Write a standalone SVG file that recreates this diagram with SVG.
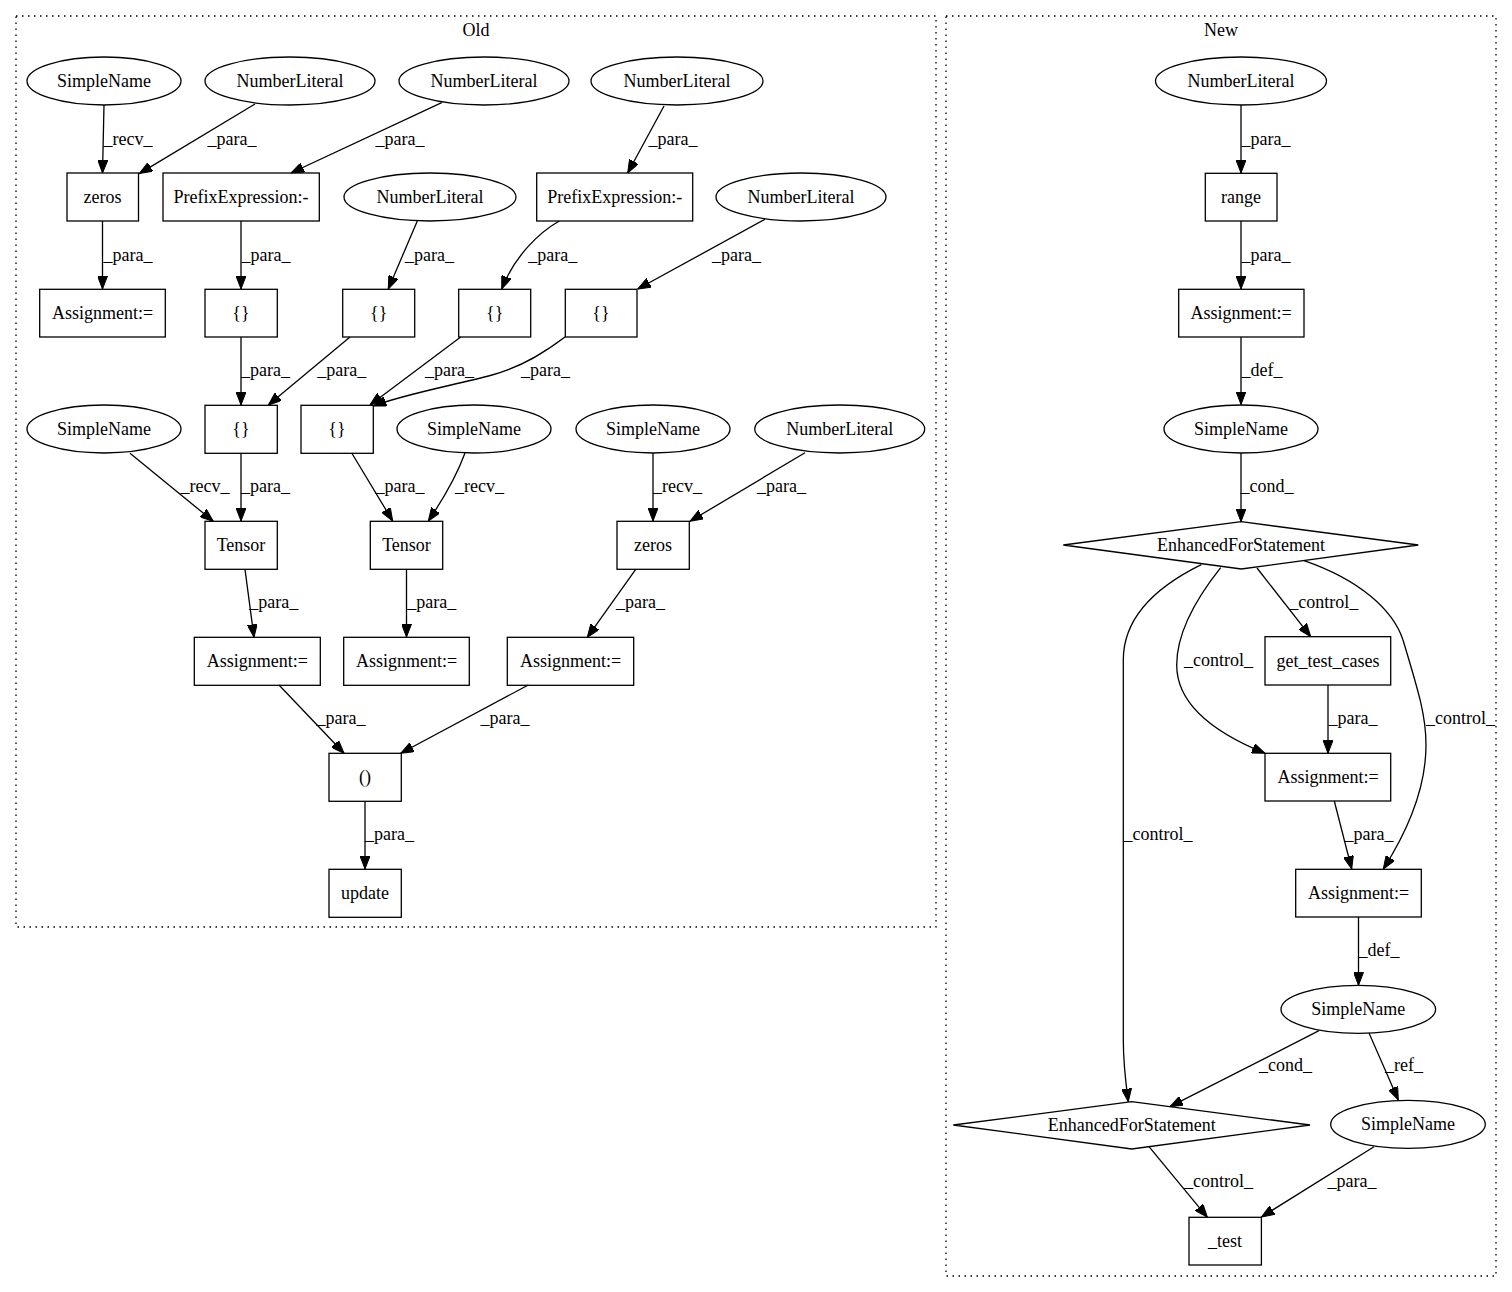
<svg xmlns="http://www.w3.org/2000/svg" width="1512" height="1292" viewBox="0 0 1512 1292">
<style>
text{font-family:"Liberation Serif","Times New Roman",serif;font-size:18px;fill:#000;text-anchor:middle}
.n rect,.n ellipse,.n polygon{fill:none;stroke:#000;stroke-width:1.3}
.e path{fill:none;stroke:#000;stroke-width:1.3;marker-end:url(#arr)}
.cl{fill:none;stroke:#000;stroke-width:1.3;stroke-dasharray:1.5,4.5}
</style>
<defs>
<marker id="arr" viewBox="0 0 13 10" refX="13" refY="5" markerWidth="13" markerHeight="10" markerUnits="userSpaceOnUse" orient="auto">
<path d="M0,0 L13,5 L0,10 z" fill="#000" stroke="#000" stroke-width="1"/>
</marker>
</defs>
<rect width="1512" height="1292" fill="#fff"/>
<g id="cluster_old"><rect class="cl" x="16" y="16" width="920" height="911"/><text x="476" y="36">Old</text></g>
<g id="cluster_new"><rect class="cl" x="946" y="16" width="550" height="1260"/><text x="1221" y="36">New</text></g>

<g id="edges" class="e">
<path d="M104,105 L102.5,173"/>
<path d="M255,104 L139.3,173.6"/>
<path d="M441.7,102.7 L291,173"/>
<path d="M664,106 L627.7,173"/>
<path d="M102.5,221 L102.5,289"/>
<path d="M241,221 L241,289"/>
<path d="M417.3,221 L388.3,289"/>
<path d="M559.3,221 C540,232 515,255 501.7,289"/>
<path d="M765,219.3 L637.7,289"/>
<path d="M241,337 L241,405"/>
<path d="M350,337 L268.3,405"/>
<path d="M460.7,337 L370,405"/>
<path d="M565,337 C545,352 522,367 492,375 C455,385 405,394 373.3,406"/>
<path d="M130,453.3 L213.3,521.3"/>
<path d="M241,453 L241,521"/>
<path d="M351.7,453 L392.7,521"/>
<path d="M465,453 C458,472 446,495 428.3,521"/>
<path d="M653,453 L653,521"/>
<path d="M805,452.7 L690,521.3"/>
<path d="M245,569.3 L254,637.3"/>
<path d="M406.5,569 L406.5,637"/>
<path d="M635.7,569.3 L587.3,637.3"/>
<path d="M279,685 L344,753.3"/>
<path d="M528.3,685 L400.7,753.3"/>
<path d="M365,801 L365,869"/>

<path d="M1241,105 L1241,173"/>
<path d="M1241,221 L1241,289"/>
<path d="M1241,337 L1241,404.5"/>
<path d="M1241,453 L1241,521.7"/>
<path d="M1201.3,564.7 C1160,585 1123.3,615 1123.3,660 L1123.3,1040 C1123.3,1065 1126,1085 1128.3,1101.7"/>
<path d="M1220.7,567.7 C1195,600 1176.7,635 1176.7,665 C1176.7,705 1215,733 1265,753.3"/>
<path d="M1257,568 L1310.7,636.7"/>
<path d="M1304,560.7 C1360,580 1393,610 1403,640 C1418,690 1426,715 1426,745 C1426,790 1405,835 1383.3,869"/>
<path d="M1328,685 L1328,753.3"/>
<path d="M1334.3,801 L1351.7,869"/>
<path d="M1358.5,917 L1358.5,985.3"/>
<path d="M1319,1030.7 L1170,1106.7"/>
<path d="M1369,1033 L1398.3,1100"/>
<path d="M1149,1146.7 L1207.4,1217.3"/>
<path d="M1374,1146.7 L1261.4,1217"/>
</g>

<g id="edge_labels">
<text x="128" y="145">_recv_</text>
<text x="232" y="145">_para_</text>
<text x="400" y="145">_para_</text>
<text x="673" y="145">_para_</text>
<text x="128" y="261">_para_</text>
<text x="266" y="261">_para_</text>
<text x="429.5" y="261">_para_</text>
<text x="552.7" y="261">_para_</text>
<text x="736.5" y="261">_para_</text>
<text x="265.5" y="376">_para_</text>
<text x="341.7" y="376">_para_</text>
<text x="449.5" y="376">_para_</text>
<text x="545.5" y="376">_para_</text>
<text x="205" y="492">_recv_</text>
<text x="265.5" y="492">_para_</text>
<text x="400" y="492">_para_</text>
<text x="479.5" y="492">_recv_</text>
<text x="677.5" y="492">_recv_</text>
<text x="781.5" y="492">_para_</text>
<text x="273.7" y="608">_para_</text>
<text x="431.8" y="608">_para_</text>
<text x="640.5" y="608">_para_</text>
<text x="341" y="724">_para_</text>
<text x="505" y="724">_para_</text>
<text x="389.5" y="840">_para_</text>

<text x="1266" y="145">_para_</text>
<text x="1266" y="261">_para_</text>
<text x="1262" y="376">_def_</text>
<text x="1267" y="492">_cond_</text>
<text x="1323.7" y="608">_control_</text>
<text x="1218.5" y="666">_control_</text>
<text x="1353" y="724">_para_</text>
<text x="1460.5" y="724">_control_</text>
<text x="1158" y="840">_control_</text>
<text x="1369" y="840">_para_</text>
<text x="1379" y="956">_def_</text>
<text x="1285.5" y="1071">_cond_</text>
<text x="1404" y="1071">_ref_</text>
<text x="1218.5" y="1187">_control_</text>
<text x="1352" y="1187">_para_</text>
</g>

<g id="o_sn1" class="n"><ellipse cx="104" cy="81" rx="77" ry="24"/><text x="104" y="87">SimpleName</text></g>
<g id="o_nl1" class="n"><ellipse cx="290" cy="81" rx="85" ry="24"/><text x="290" y="87">NumberLiteral</text></g>
<g id="o_nl2" class="n"><ellipse cx="484" cy="81" rx="85" ry="24"/><text x="484" y="87">NumberLiteral</text></g>
<g id="o_nl3" class="n"><ellipse cx="677" cy="81" rx="86" ry="24"/><text x="677" y="87">NumberLiteral</text></g>
<g id="o_zeros1" class="n"><rect x="67" y="173" width="71.5" height="48"/><text x="102.5" y="203">zeros</text></g>
<g id="o_prefix1" class="n"><rect x="163" y="173" width="156.3" height="48"/><text x="241" y="203">PrefixExpression:-</text></g>
<g id="o_nl4" class="n"><ellipse cx="430" cy="197" rx="86" ry="24"/><text x="430" y="203">NumberLiteral</text></g>
<g id="o_prefix2" class="n"><rect x="536.7" y="173" width="156" height="48"/><text x="614.7" y="203">PrefixExpression:-</text></g>
<g id="o_nl5" class="n"><ellipse cx="801" cy="197" rx="85" ry="24"/><text x="801" y="203">NumberLiteral</text></g>
<g id="o_assign1" class="n"><rect x="39.7" y="289.3" width="125.6" height="47.7"/><text x="102.5" y="319">Assignment:=</text></g>
<g id="o_br1" class="n"><rect x="205" y="289.3" width="72.3" height="47.7"/><text x="241" y="319">{}</text></g>
<g id="o_br2" class="n"><rect x="342.7" y="289.3" width="72" height="47.7"/><text x="378.7" y="319">{}</text></g>
<g id="o_br3" class="n"><rect x="458.7" y="289.3" width="72" height="47.7"/><text x="494.7" y="319">{}</text></g>
<g id="o_br4" class="n"><rect x="565.3" y="289.3" width="71.7" height="47.7"/><text x="601" y="319">{}</text></g>
<g id="o_sn2" class="n"><ellipse cx="104" cy="429" rx="77" ry="24"/><text x="104" y="435">SimpleName</text></g>
<g id="o_br5" class="n"><rect x="205" y="405.3" width="72.3" height="48"/><text x="241" y="435">{}</text></g>
<g id="o_br6" class="n"><rect x="301" y="405.3" width="72.3" height="48"/><text x="337" y="435">{}</text></g>
<g id="o_sn3" class="n"><ellipse cx="474" cy="429" rx="77" ry="24"/><text x="474" y="435">SimpleName</text></g>
<g id="o_sn4" class="n"><ellipse cx="653" cy="429" rx="77" ry="24"/><text x="653" y="435">SimpleName</text></g>
<g id="o_nl6" class="n"><ellipse cx="839.7" cy="429" rx="85" ry="24"/><text x="839.7" y="435">NumberLiteral</text></g>
<g id="o_tensor1" class="n"><rect x="205" y="521.3" width="72.3" height="48"/><text x="241" y="551">Tensor</text></g>
<g id="o_tensor2" class="n"><rect x="370.3" y="521.3" width="72.4" height="48"/><text x="406.5" y="551">Tensor</text></g>
<g id="o_zeros2" class="n"><rect x="617" y="521.3" width="72.3" height="48"/><text x="653" y="551">zeros</text></g>
<g id="o_assign2" class="n"><rect x="194.3" y="637.3" width="126" height="48"/><text x="257.3" y="667">Assignment:=</text></g>
<g id="o_assign3" class="n"><rect x="343.7" y="637.3" width="125.6" height="48"/><text x="406.5" y="667">Assignment:=</text></g>
<g id="o_assign4" class="n"><rect x="507.3" y="637.3" width="126.4" height="48"/><text x="570.5" y="667">Assignment:=</text></g>
<g id="o_tuple" class="n"><rect x="329" y="753.3" width="72.3" height="48"/><text x="365" y="783">()</text></g>
<g id="o_update" class="n"><rect x="329" y="869.3" width="72.3" height="48"/><text x="365" y="899">update</text></g>

<g id="n_nl" class="n"><ellipse cx="1241" cy="81" rx="85.5" ry="24"/><text x="1241" y="87">NumberLiteral</text></g>
<g id="n_range" class="n"><rect x="1205.3" y="173.3" width="71.7" height="47.7"/><text x="1241" y="203">range</text></g>
<g id="n_assign1" class="n"><rect x="1178.7" y="289.3" width="125.3" height="47.7"/><text x="1241" y="319">Assignment:=</text></g>
<g id="n_sn1" class="n"><ellipse cx="1241" cy="429" rx="77" ry="24"/><text x="1241" y="435">SimpleName</text></g>
<g id="n_efs1" class="n"><polygon points="1063.3,545 1241.3,521.7 1418.3,545 1241.3,569"/><text x="1241" y="551">EnhancedForStatement</text></g>
<g id="n_gtc" class="n"><rect x="1265" y="636.7" width="125.7" height="48.3"/><text x="1328" y="667">get_test_cases</text></g>
<g id="n_assign2" class="n"><rect x="1265" y="753.3" width="125.7" height="47.7"/><text x="1328" y="783">Assignment:=</text></g>
<g id="n_assign3" class="n"><rect x="1295.7" y="869.3" width="125.6" height="47.7"/><text x="1358.5" y="899">Assignment:=</text></g>
<g id="n_sn2" class="n"><ellipse cx="1358.3" cy="1009.3" rx="77.3" ry="24"/><text x="1358.3" y="1015">SimpleName</text></g>
<g id="n_efs2" class="n"><polygon points="953.3,1125 1131.7,1101.7 1310,1125 1131.7,1149"/><text x="1131.7" y="1131">EnhancedForStatement</text></g>
<g id="n_sn3" class="n"><ellipse cx="1408" cy="1124.3" rx="77.3" ry="24"/><text x="1408" y="1130">SimpleName</text></g>
<g id="n_test" class="n"><rect x="1189" y="1217.3" width="72.4" height="47.7"/><text x="1225" y="1247">_test</text></g>
</svg>
